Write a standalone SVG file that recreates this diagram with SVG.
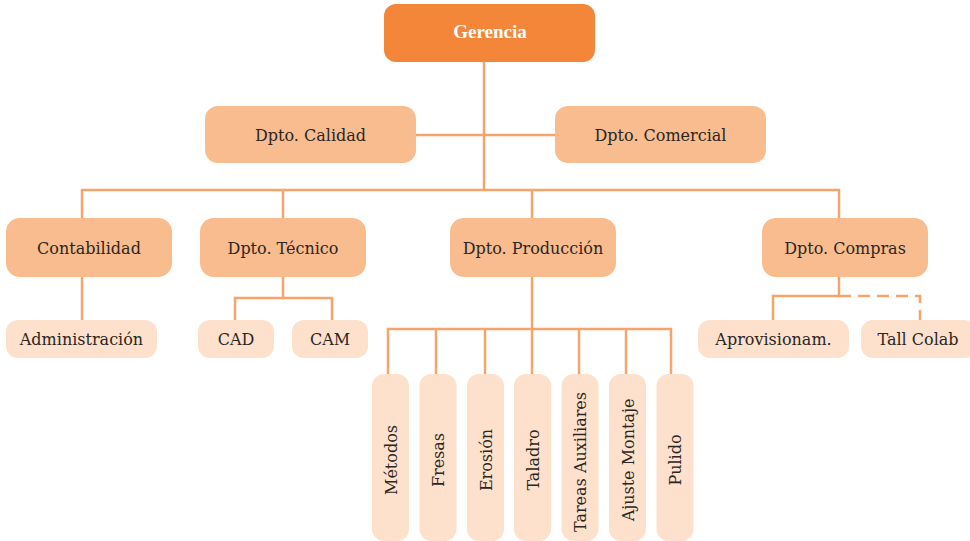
<svg xmlns="http://www.w3.org/2000/svg" width="970" height="541" viewBox="0 0 970 541">
  <style>
    .top { fill: #F4863A; }
    .mid { fill: #F9BC8E; }
    .leaf { fill: #FDE1CC; }
    .lbl { font-family: "DejaVu Serif", "Liberation Serif", serif; font-size: 16px; fill: #2B2623; text-anchor: middle; }
    .head { font-family: "Liberation Serif", "DejaVu Serif", serif; font-size: 19px; font-weight: bold; fill: #FFFFFF; text-anchor: middle; }
    .wire { fill: none; stroke: #F6A46C; stroke-width: 2.5; }
    .dash { stroke-dasharray: 12 7; }
  </style>

  <!-- connectors -->
  <g id="connectors">
    <path class="wire" d="M484 62 V190"/>
    <path class="wire" d="M416 135 H555"/>
    <path class="wire" d="M82 218 V190 H839 V218"/>
    <path class="wire" d="M283 190 V218"/>
    <path class="wire" d="M532 190 V218"/>
    <path class="wire" d="M82 277 V320"/>
    <path class="wire" d="M283 277 V298 M235 320 V298 H332 V320"/>
    <path class="wire" d="M532 277 V329 M388 374 V329 H671 V374 M436 329 V374 M485 329 V374 M532 329 V374 M579 329 V374 M626 329 V374"/>
    <path class="wire" d="M839 277 V296 H773 V320"/>
    <path class="wire dash" d="M839 296 H920 V320"/>
  </g>

  <g id="gerencia">
    <rect class="top" x="384" y="4" width="211" height="58" rx="12"/>
    <text class="head" x="490" y="38">Gerencia</text>
  </g>

  <g id="dpto-calidad">
    <rect class="mid" x="205" y="106" width="211" height="57" rx="13"/>
    <text class="lbl" x="310.5" y="140.5">Dpto. Calidad</text>
  </g>
  <g id="dpto-comercial">
    <rect class="mid" x="555" y="106" width="211" height="57" rx="13"/>
    <text class="lbl" x="660.5" y="140.5">Dpto. Comercial</text>
  </g>

  <g id="contabilidad">
    <rect class="mid" x="6" y="218" width="166" height="59" rx="14"/>
    <text class="lbl" x="89" y="253.5">Contabilidad</text>
  </g>
  <g id="dpto-tecnico">
    <rect class="mid" x="200" y="218" width="166" height="59" rx="14"/>
    <text class="lbl" x="283" y="253.5">Dpto. Técnico</text>
  </g>
  <g id="dpto-produccion">
    <rect class="mid" x="450" y="218" width="166" height="59" rx="14"/>
    <text class="lbl" x="533" y="253.5">Dpto. Producción</text>
  </g>
  <g id="dpto-compras">
    <rect class="mid" x="762" y="218" width="166" height="59" rx="14"/>
    <text class="lbl" x="845" y="253.5">Dpto. Compras</text>
  </g>

  <g id="administracion">
    <rect class="leaf" x="6" y="320" width="151" height="38" rx="12"/>
    <text class="lbl" x="81.5" y="345">Administración</text>
  </g>
  <g id="cad">
    <rect class="leaf" x="198" y="320" width="76" height="38" rx="12"/>
    <text class="lbl" x="236" y="345">CAD</text>
  </g>
  <g id="cam">
    <rect class="leaf" x="292" y="320" width="76" height="38" rx="12"/>
    <text class="lbl" x="330" y="345">CAM</text>
  </g>
  <g id="aprovisionam">
    <rect class="leaf" x="698" y="320" width="151" height="38" rx="12"/>
    <text class="lbl" x="773.5" y="345">Aprovisionam.</text>
  </g>
  <g id="tall-colab">
    <rect class="leaf" x="861" y="320" width="115" height="38" rx="12"/>
    <text class="lbl" x="918" y="345">Tall Colab</text>
  </g>

  <!-- production sections, labels read bottom to top -->
  <g id="metodos">
    <rect class="leaf" x="372" y="374" width="37" height="167" rx="12"/>
    <text class="lbl" transform="translate(396.5 460) rotate(-90)">Métodos</text>
  </g>
  <g id="fresas">
    <rect class="leaf" x="419.5" y="374" width="37" height="167" rx="12"/>
    <text class="lbl" transform="translate(444 460) rotate(-90)">Fresas</text>
  </g>
  <g id="erosion">
    <rect class="leaf" x="467" y="374" width="37" height="167" rx="12"/>
    <text class="lbl" transform="translate(491.5 460) rotate(-90)">Erosión</text>
  </g>
  <g id="taladro">
    <rect class="leaf" x="514" y="374" width="37" height="167" rx="12"/>
    <text class="lbl" transform="translate(538.5 460) rotate(-90)">Taladro</text>
  </g>
  <g id="tareas-auxiliares">
    <rect class="leaf" x="561.5" y="374" width="37" height="167" rx="12"/>
    <text class="lbl" transform="translate(586 462) rotate(-90)">Tareas Auxiliares</text>
  </g>
  <g id="ajuste-montaje">
    <rect class="leaf" x="609" y="374" width="37" height="167" rx="12"/>
    <text class="lbl" transform="translate(633.5 460) rotate(-90)">Ajuste Montaje</text>
  </g>
  <g id="pulido">
    <rect class="leaf" x="656.5" y="374" width="37" height="167" rx="12"/>
    <text class="lbl" transform="translate(681 460) rotate(-90)">Pulido</text>
  </g>
</svg>
